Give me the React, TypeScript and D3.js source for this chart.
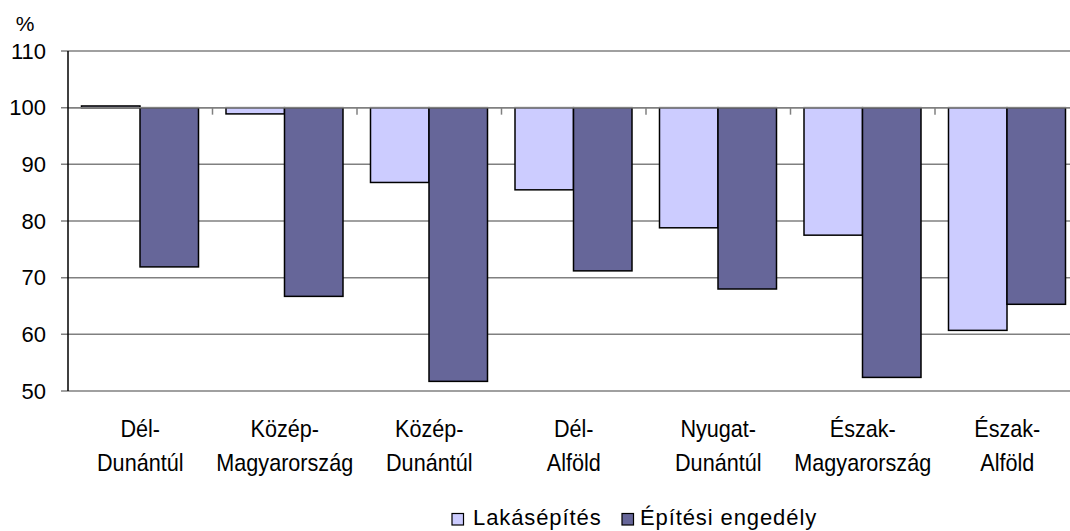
import React from 'react';
import * as d3 from 'd3';

const categories = [
  ['Dél-', 'Dunántúl'],
  ['Közép-', 'Magyarország'],
  ['Közép-', 'Dunántúl'],
  ['Dél-', 'Alföld'],
  ['Nyugat-', 'Dunántúl'],
  ['Észak-', 'Magyarország'],
  ['Észak-', 'Alföld'],
];
const seriesNames = ['Lakásépítés', 'Építési engedély'];
const lakasepites = [100.3, 98.9, 86.8, 85.5, 78.8, 77.5, 60.7];
const engedely = [71.9, 66.7, 51.7, 71.2, 68.0, 52.4, 65.3];
const yTicks = [50, 60, 70, 80, 90, 100, 110];
const colors = ['#CCCCFF', '#666699'];

const W = 1070;
const H = 531;
const left = 68;
const step = 144.5;
const font = '"Liberation Sans", Arial, sans-serif';

const App = () => {
  const keys = categories.map((c) => c.join(' '));
  const x = d3
    .scaleBand<string>()
    .domain(keys)
    .range([left, left + step * keys.length]);
  const inner = d3.scaleBand<number>().domain([0, 1]).range([13.5, 130.5]);
  const y = d3.scaleLinear().domain([50, 110]).range([391, 51]);
  const series = [lakasepites, engedely];

  return (
    <svg width={W} height={H} style={{ position: 'absolute', left: 0, top: 0, background: '#fff' }}>
      {/* gridlines + y labels */}
      {yTicks.map((t) => (
        <g key={t}>
          <line x1={61} x2={W} y1={y(t)} y2={y(t)} stroke="#808080" strokeWidth={1.5} />
          <text x={46} y={y(t) + 7.5} textAnchor="end" fontFamily={font} fontSize={22} fill="#000">
            {t}
          </text>
        </g>
      ))}
      <text x={25} y={31} textAnchor="middle" fontFamily={font} fontSize={21} fill="#000">
        %
      </text>

      {/* bars */}
      {series.map((vals, si) =>
        vals.map((v, i) => {
          const bx = (x(keys[i]) as number) + (inner(si) as number);
          const y0 = y(100);
          const y1 = y(v);
          return (
            <rect
              key={si + '-' + i}
              x={bx}
              y={Math.min(y0, y1)}
              width={inner.bandwidth()}
              height={Math.max(Math.abs(y1 - y0), 0.5)}
              fill={colors[si]}
              stroke="#000"
              strokeWidth={1.5}
            />
          );
        })
      )}

      {/* category axis crossing at 100 */}
      <line x1={left} x2={W} y1={y(100)} y2={y(100)} stroke="#808080" strokeWidth={1.5} />
      {keys.slice(1).map((k) => (
        <line
          key={'t' + k}
          x1={x(k) as number}
          x2={x(k) as number}
          y1={y(100)}
          y2={y(100) + 7}
          stroke="#808080"
          strokeWidth={1.5}
        />
      ))}
      <line x1={left} x2={left} y1={y(110)} y2={y(50)} stroke="#000" strokeWidth={1.5} />

      {/* category labels */}
      {categories.map((c, i) => {
        const cx = (x(keys[i]) as number) + x.bandwidth() / 2;
        return (
          <g key={'l' + i} transform={`translate(${cx},0) scale(0.9,1)`}>
            <text textAnchor="middle" fontFamily={font} fontSize={24} fill="#000">
              <tspan x={0} y={437}>
                {c[0]}
              </tspan>
              <tspan x={0} y={471}>
                {c[1]}
              </tspan>
            </text>
          </g>
        );
      })}

      {/* legend */}
      <g>
        <rect x={452} y={513.5} width={11.5} height={11.5} fill={colors[0]} stroke="#000" strokeWidth={1.2} />
        <text x={473} y={525} fontFamily={font} fontSize={22} letterSpacing={0.9} fill="#000">
          {seriesNames[0]}
        </text>
        <rect x={622} y={513.5} width={11.5} height={11.5} fill={colors[1]} stroke="#000" strokeWidth={1.2} />
        <text x={640} y={525} fontFamily={font} fontSize={22} letterSpacing={0.9} fill="#000">
          {seriesNames[1]}
        </text>
      </g>
    </svg>
  );
};

export default App;
